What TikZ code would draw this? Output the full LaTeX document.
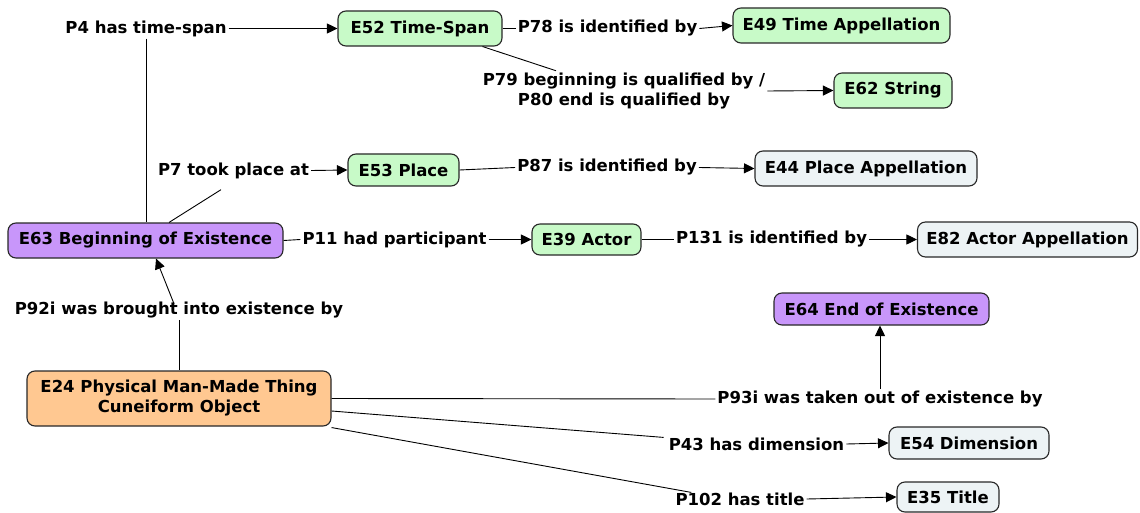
\documentclass[tikz,border=0pt]{standalone}
\usepackage{fontspec}
\setmainfont{DejaVu Sans}[BoldFont={DejaVu Sans Bold}]
\usetikzlibrary{arrows.meta,calc}
\definecolor{cgreen}{RGB}{200,250,200}
\definecolor{cpurple}{RGB}{200,150,250}
\definecolor{corange}{RGB}{255,200,145}
\definecolor{cgray}{RGB}{237,243,245}
\definecolor{cborder}{RGB}{40,40,40}
\tikzset{
  box/.style={draw=cborder, line width=1.1pt, rounded corners=8pt, inner sep=0pt,
    font=\fontsize{16.5}{20}\selectfont\bfseries, align=center},
  gbox/.style={box, fill=cgreen},
  pbox/.style={box, fill=cpurple},
  obox/.style={box, fill=corange},
  sbox/.style={box, fill=cgray},
  lbl/.style={inner sep=2pt, font=\fontsize{16.5}{20}\selectfont\bfseries, align=center},
  conn/.style={line width=0.9pt, black},
  arr/.style={conn, -{Triangle[length=10.5pt,width=10pt]}}
}
\begin{document}
\begin{tikzpicture}[x=1pt,y=-1pt]
\useasboundingbox[fill=white] (0,0) rectangle (1140,513);
% boxes
\node[gbox, minimum width=164pt, minimum height=35pt] (e52) at (420,28.5) {E52 Time-Span};
\node[gbox, minimum width=217pt, minimum height=35pt] (e49) at (841.5,25.5) {E49 Time Appellation};
\node[gbox, minimum width=118pt, minimum height=35pt] (e62) at (893,90.5) {E62 String};
\node[gbox, minimum width=111pt, minimum height=32pt] (e53) at (403.5,170) {E53 Place};
\node[sbox, minimum width=222pt, minimum height=35pt] (e44) at (866,168.5) {E44 Place Appellation};
\node[pbox, minimum width=275pt, minimum height=35pt] (e63) at (145.5,240.5) {E63 Beginning of Existence};
\node[gbox, minimum width=109pt, minimum height=31pt] (e39) at (586.5,239.5) {E39 Actor};
\node[sbox, minimum width=220pt, minimum height=35pt] (e82) at (1027.5,239.5) {E82 Actor Appellation};
\node[pbox, minimum width=215pt, minimum height=32pt] (e64) at (881.5,309) {E64 End of Existence};
\node[obox, minimum width=304pt, minimum height=55pt] (e24) at (179,398.5) {E24 Physical Man-Made Thing\\Cuneiform Object};
\node[sbox, minimum width=160pt, minimum height=32pt] (e54) at (969,443) {E54 Dimension};
\node[sbox, minimum width=102pt, minimum height=30pt] (e35) at (948,497) {E35 Title};
% labels
\node[lbl] (p4) at (146,28.5) {P4 has time-span};
\node[lbl] (p78) at (607.5,28.5) {P78 is identified by};
\node[lbl] (p79) at (624,91) {P79 beginning is qualified by /\\P80 end is qualified by};
\node[lbl] (p7) at (233.5,170.5) {P7 took place at};
\node[lbl] (p87) at (607,167.5) {P87 is identified by};
\node[lbl] (p11) at (394.5,239.5) {P11 had participant};
\node[lbl, fill=white] (p131) at (771.5,239.5) {P131 is identified by};
\node[lbl] (p92) at (179,310) {P92i was brought into existence by};
\node[lbl] (p93) at (880,399) {P93i was taken out of existence by};
\node[lbl] (p43) at (756.5,444) {P43 has dimension};
\node[lbl] (p102) at (740,499) {P102 has title};
% connectors
\draw[conn] (p4.south) -- (p4.south |- e63.north);
\draw[arr] (p4.east) -- (e52.west);
\draw[conn] (e52.east) -- (p78.west);
\draw[arr] (p78.east) -- (e49.west);
\draw[conn] ($(e52.south east)+(-20,0)$) -- ($(p79.north)+(-68,0)$);
\draw[arr] (p79.east) -- (e62.west);
\draw[conn] ($(e63.north)+(23.5,0)$) -- ($(p7.south)+(-12.5,9)$);
\draw[arr] (p7.east) -- (e53.west);
\draw[conn] (e53.east) -- (p87.west);
\draw[arr] (p87.east) -- (e44.west);
\draw[conn] (e63.east) -- (p11.west);
\draw[arr] (p11.east) -- (e39.west);
\draw[conn] (e39.east) -- (p131.west);
\draw[arr] (p131.east) -- (e82.west);
\draw[conn] (p92.south) -- (p92.south |- e24.north);
\draw[arr] ($(p92.north)+(-5,4)$) -- ($(e63.south)+(10.5,0)$);
\draw[conn] (e24.east) -- (p93.west);
\draw[arr] (p93.north) -- (p93.north |- e64.south);
\draw[conn] ($(e24.east)+(0,12.5)$) -- ($(p43.north west)+(-3,2)$);
\draw[arr] (p43.east) -- (e54.west);
\draw[conn] ($(e24.south east)+(0,1)$) -- ($(p102.north west)+(18,2)$);
\draw[arr] (p102.east) -- (e35.west);
\end{tikzpicture}
\end{document}
